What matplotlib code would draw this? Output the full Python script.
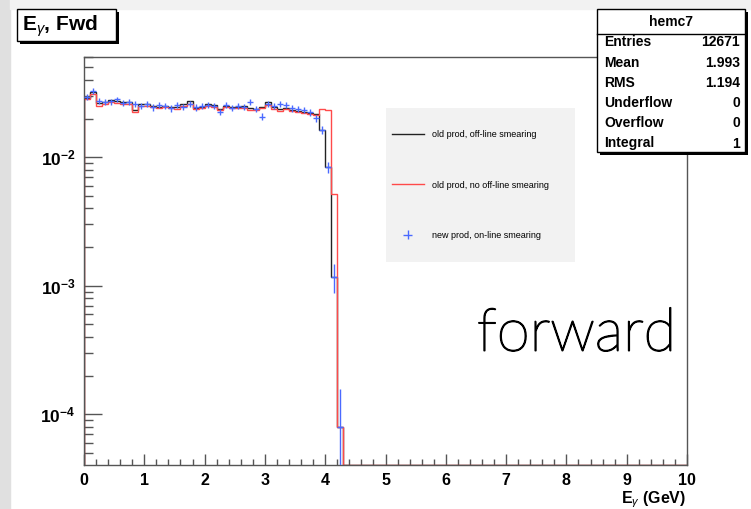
import numpy as np
import matplotlib.pyplot as plt
import matplotlib.patheffects as pe
from matplotlib.patches import Rectangle
from matplotlib.ticker import FixedLocator, FixedFormatter, LogLocator, MultipleLocator, NullFormatter

plt.rcParams['font.family'] = ['Liberation Sans', 'DejaVu Sans']
plt.rcParams['mathtext.fontset'] = 'custom'
plt.rcParams['mathtext.rm'] = 'Liberation Sans'
plt.rcParams['mathtext.it'] = 'Liberation Sans:italic'
plt.rcParams['mathtext.bf'] = 'Liberation Sans:bold'

# histogram hemc7, 100 bins of 0.1 GeV, normalised to integral 1 (only first 43 bins filled)
n_entries = 12671
n_bins = 100
black = [0.0291, 0.0324, 0.0263, 0.0271, 0.0279, 0.0276, 0.0271, 0.0268, 0.0233, 0.0258,
         0.0258, 0.0252, 0.0248, 0.0252, 0.0248, 0.0244, 0.0258, 0.0274, 0.0241, 0.0248,
         0.0258, 0.0255, 0.0237, 0.0252, 0.0248, 0.0246, 0.0252, 0.0241, 0.0237, 0.0248,
         0.0268, 0.0244, 0.0237, 0.0241, 0.0233, 0.0229, 0.0224, 0.0220, 0.0218, 0.0163,
         0.0084, 0.00117, 0.000079]
red = [0.0285, 0.0312, 0.0252, 0.0262, 0.0268, 0.0266, 0.0262, 0.0258, 0.0226, 0.0250,
       0.0250, 0.0246, 0.0242, 0.0247, 0.0243, 0.0238, 0.0250, 0.0262, 0.0236, 0.0242,
       0.0250, 0.0246, 0.0232, 0.0245, 0.0240, 0.0241, 0.0243, 0.0235, 0.0233, 0.0240,
       0.0256, 0.0238, 0.0231, 0.0236, 0.0230, 0.0226, 0.0222, 0.0219, 0.0215, 0.0237,
       0.0235, 0.0052, 0.000079]
blue = [0.0296, 0.0328, 0.0275, 0.0268, 0.0272, 0.0282, 0.0265, 0.0270, 0.0262, 0.0250,
        0.0262, 0.0245, 0.0255, 0.0250, 0.0240, 0.0256, 0.0248, 0.0262, 0.0245, 0.0252,
        0.0255, 0.0250, 0.0226, 0.0255, 0.0242, 0.0250, 0.0247, 0.0271, 0.0238, 0.0207,
        0.0262, 0.0250, 0.0262, 0.0255, 0.0240, 0.0238, 0.0233, 0.0224, 0.0201, 0.0163,
        0.0084, 0.00118, 0.000079]
labels = ["old prod, off-line smearing", "old prod, no off-line smearing", "new prod, on-line smearing"]
stats_names = ["Entries", "Mean", "RMS", "Underflow", "Overflow", "Integral"]
stats_vals = ["12671", "1.993", "1.194", "0", "0", "1"]

W, H = 751, 509
def fx(x):
    return x / W
def fy(y):
    return 1 - y / H

edges = np.linspace(0, 10, n_bins + 1)
centers = 0.5 * (edges[:-1] + edges[1:])
def full(v):
    out = np.zeros(n_bins)
    out[:len(v)] = v
    return out
black_h = full(black)
red_h = full(red)
blue_h = full(blue)

ymin, ymax = 4.03e-5, 0.0603

fig = plt.figure(figsize=(W / 100, H / 100), dpi=100)
# grey slide edges
fig.add_artist(Rectangle((0, 0), fx(10), 1, transform=fig.transFigure, color='#e0e0e0', zorder=-1))
fig.add_artist(Rectangle((fx(10), fy(9)), 1, 1, transform=fig.transFigure, color='#f2f2f2', zorder=-1))

ax = fig.add_axes([fx(84), fy(465), (687 - 84) / W, (465 - 57) / H])
ax.set_yscale('log')
h1 = ax.stairs(np.clip(black_h, ymin, None), edges, color='#222222', lw=1.0, zorder=2)
h2 = ax.stairs(np.clip(red_h, ymin, None), edges, color='#ff4a4a', lw=1.0, zorder=2)
m = blue_h > 0
h3 = ax.errorbar(centers[m], blue_h[m], xerr=0.05, yerr=np.sqrt(blue_h[m] / n_entries),
                 fmt='none', ecolor='#4a6aff', elinewidth=1.0, capsize=0, zorder=3)

ax.set_xlim(0, 10)
ax.set_ylim(ymin, ymax)
ax.set_xticks(range(11), [str(i) for i in range(11)], fontweight='bold', fontsize=11.5)
ax.xaxis.set_minor_locator(MultipleLocator(0.2))
ax.yaxis.set_major_locator(FixedLocator([1e-4, 1e-3, 1e-2]))
ax.yaxis.set_major_formatter(FixedFormatter([r'$\mathbf{10^{-4}}$', r'$\mathbf{10^{-3}}$', r'$\mathbf{10^{-2}}$']))
ax.yaxis.set_minor_locator(LogLocator(base=10, subs=range(2, 10)))
ax.yaxis.set_minor_formatter(NullFormatter())
ax.tick_params(axis='x', which='major', direction='in', length=8, width=1, color='#555555', pad=6)
ax.tick_params(axis='x', which='minor', direction='in', length=4, width=1, color='#555555')
ax.tick_params(axis='y', which='major', direction='in', length=13, width=1, color='#555555', pad=6, labelsize=12.5)
ax.tick_params(axis='y', which='minor', direction='in', length=6.5, width=1, color='#555555')
for s in ax.spines.values():
    s.set_color('#555555')
    s.set_linewidth(1)

fig.text(fx(686), fy(503), r'E$_{\gamma}$ (GeV)', ha='right', va='baseline', fontsize=11.5, fontweight='bold')

# legend box and entries
ax.add_artist(Rectangle((fx(386), fy(262)), (575 - 386) / W, (262 - 108) / H,
                        transform=fig.transFigure, facecolor='#f2f2f2', edgecolor='none', zorder=1))
leg = ax.legend([h1, h2, h3], labels, loc='upper left', bbox_to_anchor=(fx(392), fy(130)),
                bbox_transform=fig.transFigure, frameon=False, fontsize=6.5, handlelength=3.5,
                handletextpad=0.9, labelspacing=4.6, borderpad=0, borderaxespad=0)
leg.set_zorder(5)

# title box
fig.add_artist(Rectangle((fx(20), fy(44)), 99 / W, 32 / H, transform=fig.transFigure,
                         facecolor='black', edgecolor='none', zorder=3))
fig.add_artist(Rectangle((fx(17), fy(41)), 99 / W, 32 / H, transform=fig.transFigure,
                         facecolor='white', edgecolor='black', lw=1, zorder=4))
fig.text(fx(22), fy(30.5), r'E$_{\gamma}$, Fwd', fontsize=15, fontweight='bold', va='baseline', zorder=5)

# stats box
fig.add_artist(Rectangle((fx(600), fy(155)), 148 / W, 143 / H, transform=fig.transFigure,
                         facecolor='black', edgecolor='none', zorder=3))
fig.add_artist(Rectangle((fx(597), fy(152)), 148 / W, 143 / H, transform=fig.transFigure,
                         facecolor='white', edgecolor='black', lw=1, zorder=4))
fig.add_artist(plt.Line2D([fx(597), fx(745)], [fy(34), fy(34)], transform=fig.transFigure,
                          color='black', lw=1, zorder=5))
fig.text(fx(671), fy(26), 'hemc7', ha='center', va='baseline', fontsize=10, fontweight='bold', zorder=5)
for i, (n, v) in enumerate(zip(stats_names, stats_vals)):
    yy = 46.5 + 20.2 * i
    fig.text(fx(604), fy(yy), n, ha='left', va='baseline', fontsize=10, fontweight='bold', zorder=5)
    fig.text(fx(740), fy(yy), v, ha='right', va='baseline', fontsize=10, fontweight='bold', zorder=5)

fig.text(fx(477), fy(350.7), 'forward', fontsize=43, family=['Lato', 'DejaVu Sans'],
         fontweight='light', va='baseline',
         path_effects=[pe.withStroke(linewidth=1.1, foreground='black')])

fig.savefig('out.png', dpi=100)
